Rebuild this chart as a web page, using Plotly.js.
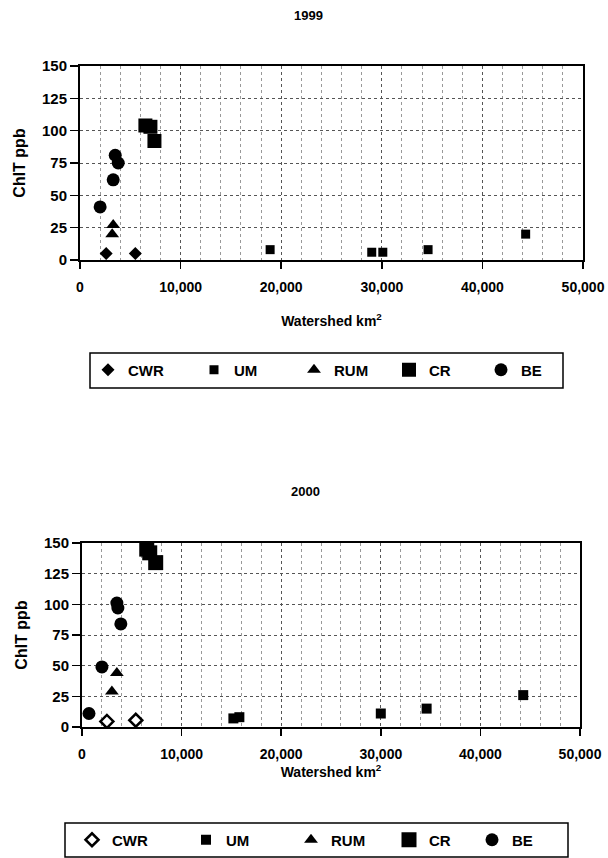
<!DOCTYPE html>
<html>
<head>
<meta charset="utf-8">
<script src="https://cdn.plot.ly/plotly-3.0.1.min.js"></script>
<style>html,body{margin:0;padding:0;background:#fff;}#chart{width:608px;height:858px;}</style>
</head>
<body>
<div id="chart"></div>
<script>
// ---- 1999 data ----
const cwr99X = [2600, 5500];
const cwr99Y = [5, 5];
const um99X = [18900, 29000, 30100, 34600, 44300];
const um99Y = [8, 6, 6, 8, 20];
const rum99X = [3300, 3200];
const rum99Y = [27, 20];
const cr99X = [6500, 7000, 7400];
const cr99Y = [104, 103, 92];
const be99X = [2000, 3500, 3800, 3300];
const be99Y = [41, 81, 75, 62];

// ---- 2000 data ----
const cwr00X = [2500, 5400];
const cwr00Y = [4.5, 5.5];
const um00X = [15200, 15800, 30000, 34600, 44300];
const um00Y = [7, 8, 11, 15, 26];
const rum00X = [3500, 3000];
const rum00Y = [44, 29];
const cr00X = [6500, 6800, 7400];
const cr00Y = [145, 142, 134];
const be00X = [700, 2000, 3500, 3600, 3900];
const be00Y = [11, 49, 101, 97, 84];

const seriesNames = ['CWR', 'UM', 'RUM', 'CR', 'BE'];
const panelTitles = ['1999', '2000'];
const xTitle = 'Watershed km<sup>2</sup>';
const yTitle = 'ChlT ppb';

const W = 608, H = 858;
const px = v => v / W;
const py = v => 1 - v / H;

const FONT = 'Liberation Sans, Arial, Helvetica, sans-serif';

function mk(name, x, y, symbol, size, xa, ya, leg, lw, open) {
  return {
    type: 'scatter', mode: 'markers', name: name, x: x, y: y,
    xaxis: xa, yaxis: ya, legend: leg, legendwidth: lw,
    marker: {symbol: symbol, size: size, color: 'black',
             line: {width: open ? 2.5 : 0, color: 'black'}},
    hoverinfo: 'x+y+name'
  };
}

const data = [
  mk(seriesNames[0], cwr99X, cwr99Y, 'diamond', 10, 'x', 'y', 'legend', 61),
  mk(seriesNames[1], um99X, um99Y, 'square', 9, 'x', 'y', 'legend', 55),
  mk(seriesNames[2], rum99X, rum99Y, 'triangle-up', 12, 'x', 'y', 'legend', 50),
  mk(seriesNames[3], cr99X, cr99Y, 'square', 14, 'x', 'y', 'legend', 47),
  mk(seriesNames[4], be99X, be99Y, 'circle', 13, 'x', 'y', 'legend', 30),
  mk(seriesNames[0], cwr00X, cwr00Y, 'diamond-open', 10, 'x2', 'y2', 'legend2', 69, true),
  mk(seriesNames[1], um00X, um00Y, 'square', 10, 'x2', 'y2', 'legend2', 60),
  mk(seriesNames[2], rum00X, rum00Y, 'triangle-up', 12, 'x2', 'y2', 'legend2', 53),
  mk(seriesNames[3], cr00X, cr00Y, 'square', 15, 'x2', 'y2', 'legend2', 38),
  mk(seriesNames[4], be00X, be00Y, 'circle', 13, 'x2', 'y2', 'legend2', 30)
];

function xAxis(dom, anchor, standoff) {
  return {
    domain: dom, anchor: anchor, range: [0, 50000], tick0: 0, dtick: 10000,
    tickformat: ',d', showline: true, mirror: true, linewidth: 2, linecolor: 'black',
    ticks: 'outside', ticklen: 7, tickwidth: 1.5, tickcolor: 'black',
    ticklabelstandoff: 6,
    showgrid: true, gridcolor: '#555', griddash: 'dot', gridwidth: 1,
    minor: {dtick: 2000, showgrid: true, gridcolor: '#999', griddash: 'dot', gridwidth: 1, ticks: ''},
    zeroline: false,
    tickfont: {family: FONT, size: 14, weight: 'bold', color: 'black'},
    title: {text: xTitle, standoff: standoff, font: {family: FONT, size: 14, weight: 'bold', color: 'black'}},
    fixedrange: true
  };
}
function yAxis(dom, anchor) {
  return {
    domain: dom, anchor: anchor, range: [0, 150], tick0: 0, dtick: 25,
    showline: true, mirror: true, linewidth: 2, linecolor: 'black',
    ticks: 'outside', ticklen: 8, tickwidth: 1.5, tickcolor: 'black',
    showgrid: true, gridcolor: '#555', griddash: 'dot', gridwidth: 1,
    zeroline: false,
    tickfont: {family: FONT, size: 15, weight: 'bold', color: 'black'},
    title: {text: yTitle, standoff: 12, font: {family: FONT, size: 16, weight: 'bold', color: 'black'}},
    fixedrange: true
  };
}

const legFont = {family: FONT, size: 15, weight: 'bold', color: 'black'};

const layout = {
  width: W, height: H,
  margin: {l: 0, r: 0, t: 0, b: 0},
  paper_bgcolor: 'white', plot_bgcolor: 'white',
  font: {family: FONT, color: 'black'},
  xaxis: xAxis([px(80), px(583)], 'y', 22),
  yaxis: yAxis([py(260), py(66)], 'x'),
  xaxis2: xAxis([px(82), px(580)], 'y2', 6),
  yaxis2: yAxis([py(727), py(543)], 'x2'),
  showlegend: true,
  legend: {orientation: 'h', x: px(88), y: py(370), xanchor: 'left', yanchor: 'middle',
           bgcolor: 'rgba(0,0,0,0)', borderwidth: 0, font: legFont},
  legend2: {orientation: 'h', x: px(72), y: py(840), xanchor: 'left', yanchor: 'middle',
            bgcolor: 'rgba(0,0,0,0)', borderwidth: 0, font: legFont},
  shapes: [
    {type: 'rect', xref: 'paper', yref: 'paper', x0: px(90), x1: px(563), y0: py(388), y1: py(353),
     line: {color: 'black', width: 1.5}},
    {type: 'rect', xref: 'paper', yref: 'paper', x0: px(65), x1: px(568), y0: py(857), y1: py(823),
     line: {color: 'black', width: 1.5}}
  ],
  annotations: [
    {text: panelTitles[0], xref: 'paper', yref: 'paper', x: px(308), y: py(15), showarrow: false,
     xanchor: 'center', yanchor: 'middle', font: {family: FONT, size: 13, weight: 'bold', color: 'black'}},
    {text: panelTitles[1], xref: 'paper', yref: 'paper', x: px(305), y: py(491), showarrow: false,
     xanchor: 'center', yanchor: 'middle', font: {family: FONT, size: 13, weight: 'bold', color: 'black'}}
  ]
};

Plotly.newPlot('chart', data, layout, {displayModeBar: false, staticPlot: true});
</script>
</body>
</html>
